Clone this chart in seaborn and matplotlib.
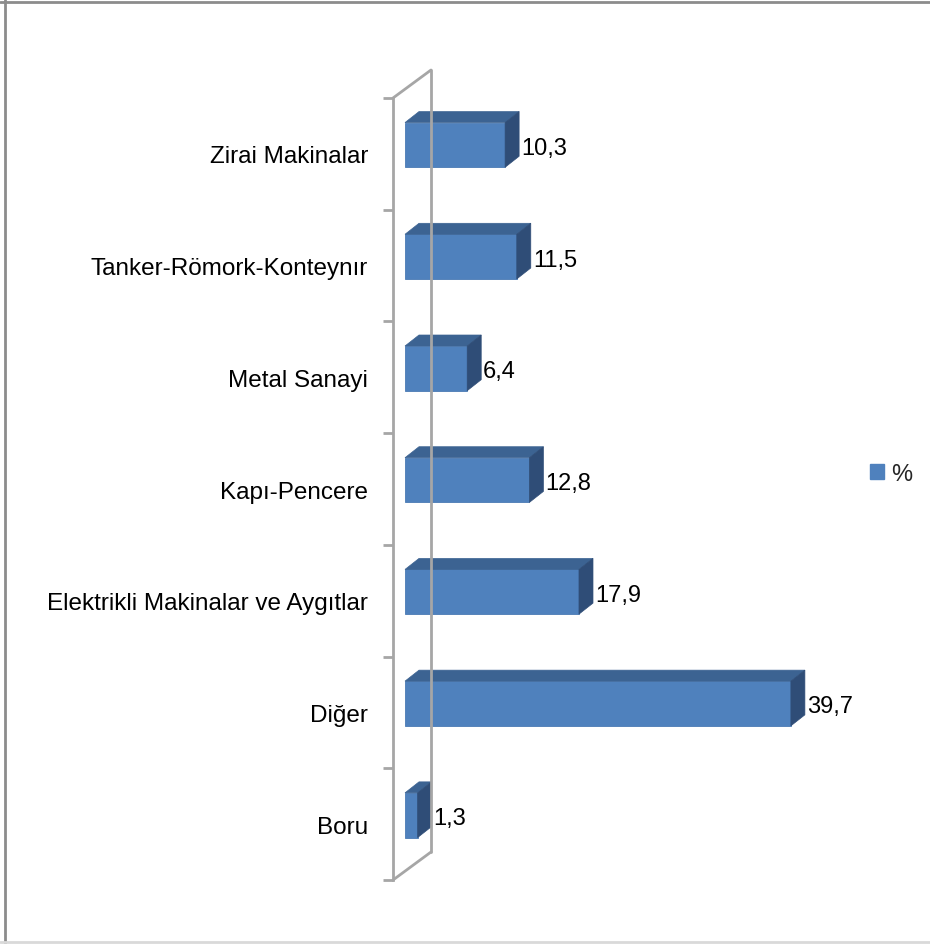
import numpy as np
import matplotlib
matplotlib.use("Agg")
import matplotlib.pyplot as plt
import seaborn as sns
from matplotlib.patches import Polygon, Patch
from matplotlib.lines import Line2D
from matplotlib.transforms import ScaledTranslation

categories = ["Zirai Makinalar", "Tanker-Römork-Konteynır", "Metal Sanayi", "Kapı-Pencere",
              "Elektrikli Makinalar ve Aygıtlar", "Diğer", "Boru"]
values = [10.3, 11.5, 6.4, 12.8, 17.9, 39.7, 1.3]
value_labels = ["10,3", "11,5", "6,4", "12,8", "17,9", "39,7", "1,3"]
series_name = "%"

sns.set_style("white")
plt.rcParams["font.family"] = ["Liberation Sans", "DejaVu Sans"]

W, H, DPI = 930, 945, 100
fig = plt.figure(figsize=(W / DPI, H / DPI), dpi=DPI)

# axes placed in pixels: front wall line at x=393, from y=99 to y=881
ax_left, ax_right, ax_top, ax_bottom = 393, 880, 99, 881
ax = fig.add_axes([ax_left / W, 1 - ax_bottom / H, (ax_right - ax_left) / W, (ax_bottom - ax_top) / H])

px_per_unit = 9.72
zero_px = 405
xmin = -(zero_px - ax_left) / px_per_unit
xmax = (ax_right - zero_px) / px_per_unit

front = "#4F81BD"
top_c = "#3C6392"
side_c = "#2F4D77"
wall = "#A6A6A6"

sns.barplot(x=values, y=categories, orient="h", color=front, saturation=1,
            width=0.4, ax=ax, edgecolor="#4A7AB4", linewidth=0.6)
ax.set_xlim(xmin, xmax)
ax.set_ylim(len(categories) - 0.5, -0.5)

# bars sit a bit toward the back wall
for p in ax.patches:
    p.set_y(p.get_y() - 0.08)

# 3d faces of each bar
ddx, ddy = 14, 11
to_disp = ax.transData
from_disp = ax.transData.inverted()
for p in ax.patches:
    x0, y0 = p.get_x(), p.get_y()
    x1, y1 = x0 + p.get_width(), y0 + p.get_height()
    (ax0, ay_top), (ax1, ay_bot) = to_disp.transform([(x0, y0), (x1, y1)])
    top = [(ax0, ay_top), (ax1, ay_top), (ax1 + ddx, ay_top + ddy), (ax0 + ddx, ay_top + ddy)]
    side = [(ax1, ay_top), (ax1 + ddx, ay_top + ddy), (ax1 + ddx, ay_bot + ddy), (ax1, ay_bot)]
    ax.add_patch(Polygon(from_disp.transform(top), closed=True, facecolor=top_c,
                         edgecolor=top_c, linewidth=0.5, clip_on=False))
    ax.add_patch(Polygon(from_disp.transform(side), closed=True, facecolor=side_c,
                         edgecolor=side_c, linewidth=0.5, clip_on=False))

# value labels
for p, lab in zip(ax.patches[:len(values)], value_labels):
    ax.annotate(lab, (p.get_x() + p.get_width(), p.get_y() + p.get_height() / 2),
                xytext=(16 * 0.72, -3 * 0.72), textcoords="offset points",
                ha="left", va="center", fontsize=17, color="black")

# back wall of the 3d frame
off = ScaledTranslation(38 / DPI, 28 / DPI, fig.dpi_scale_trans)
back = ax.transAxes + off
ax.add_line(Line2D([0, 0], [0, 1], transform=back, color=wall, lw=2, clip_on=False))
for yy in (0, 1):
    x_a, y_a = ax.transAxes.transform((0, yy))
    x_b, y_b = back.transform((0, yy))
    ax.add_line(Line2D([x_a, x_b], [y_a, y_b], transform=None, color=wall, lw=2, clip_on=False))

for s in ["top", "right", "bottom"]:
    ax.spines[s].set_visible(False)
ax.spines["left"].set_color(wall)
ax.spines["left"].set_linewidth(2)
ax.set_xticks([])
ax.set_yticks(np.arange(-0.5, len(categories)), minor=True)
ax.tick_params(axis="y", which="minor", length=7, width=2, color=wall, left=True)
ax.tick_params(axis="y", which="major", length=0, pad=18, labelsize=17.5, labelcolor="black")
ax.set_xlabel("")
ax.set_ylabel("")

fig.legend(handles=[Patch(facecolor=front, edgecolor=front)], labels=[series_name],
           loc="center left", bbox_to_anchor=(870 / W, 1 - 475 / H), frameon=False,
           fontsize=17, handlelength=0.6, handleheight=0.6, handletextpad=0.3,
           borderpad=0, borderaxespad=0)

# outer chart border
fig.add_artist(Line2D([5 / W, 5 / W], [0, 1], transform=fig.transFigure, color="#8C8C8C", lw=2))
fig.add_artist(Line2D([0, 1], [1 - 3 / H, 1 - 3 / H], transform=fig.transFigure, color="#8C8C8C", lw=2))
fig.add_artist(Line2D([0, 1], [1 - 943 / H, 1 - 943 / H], transform=fig.transFigure, color="#D9D9D9", lw=2))

fig.savefig("out.png", dpi=DPI)
